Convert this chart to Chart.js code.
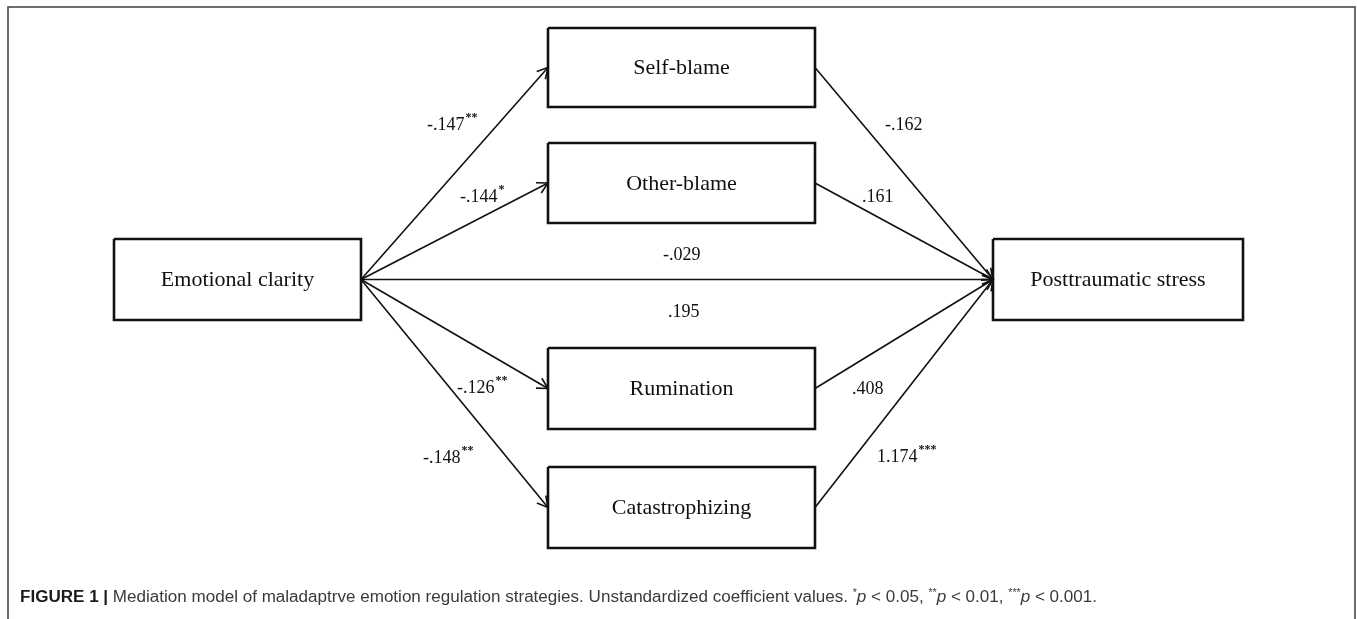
<!DOCTYPE html>
<html>
<head>
<meta charset="utf-8">
<script src="https://cdn.jsdelivr.net/npm/chart.js@4.4.1/dist/chart.umd.min.js"></script>
<style>
  html, body { margin: 0; padding: 0; background: #fff; }
  #wrap { width: 1357px; height: 619px; }
</style>
</head>
<body>
<div id="wrap"><canvas id="myChart" width="1357" height="619"></canvas></div>
<script>
// model content
const nodeNames = ['Emotional clarity', 'Self-blame', 'Other-blame', 'Rumination', 'Catastrophizing', 'Posttraumatic stress'];
const pathFrom = [0, 0, 0, 0, 0, 1, 2, 3, 4];
const pathTo   = [1, 2, 5, 3, 4, 5, 5, 5, 5];
const coefLabels = ['-.147', '-.144', '-.029', '.195', '-.126', '-.148', '-.162', '.161', '.408', '1.174'];
const coefStars  = ['**', '*', '', '', '**', '**', '', '', '', '***'];
const captionParts = [
    { t: 'FIGURE 1 | ', b: true },
    { t: 'Mediation model of maladaptrve emotion regulation strategies. Unstandardized coefficient values. ' },
    { t: '*', sup: true }, { t: 'p', i: true }, { t: ' < 0.05, ' },
    { t: '**', sup: true }, { t: 'p', i: true }, { t: ' < 0.01, ' },
    { t: '***', sup: true }, { t: 'p', i: true }, { t: ' < 0.001.' }
];

// layout (page units, mapped through the hidden linear scales)
const nodeBox = [
    [114, 239, 361, 320],
    [548, 28, 815, 107],
    [548, 143, 815, 223],
    [548, 348, 815, 429],
    [548, 467, 815, 548],
    [993, 239, 1243, 320]
];
const labelAt = [
    [427, 125], [460, 197], [663, 255], [668, 312], [457, 388],
    [423, 458], [885, 125], [862, 197], [852, 389], [877, 457]
];

const serif = '"Liberation Serif", "Times New Roman", serif';

function boxData(b) {
    return [
        { x: b[0], y: b[1] }, { x: b[2], y: b[1] }, { x: b[2], y: b[3] },
        { x: b[0], y: b[3] }, { x: b[0], y: b[1] }
    ];
}

const datasets = [];
pathFrom.forEach((f, i) => {
    const a = nodeBox[f], b = nodeBox[pathTo[i]];
    datasets.push({
        id: 'path',
        data: [
            { x: a[2], y: (a[1] + a[3]) / 2 },
            { x: b[0], y: (b[1] + b[3]) / 2 }
        ],
        showLine: true,
        borderColor: '#111',
        borderWidth: 1.6,
        pointRadius: 0
    });
});
nodeBox.forEach(b => {
    datasets.push({
        id: 'box',
        data: boxData(b),
        showLine: true,
        borderColor: '#111',
        borderWidth: 2.6,
        pointRadius: 0,
        borderJoinStyle: 'miter'
    });
});

const diagramPlugin = {
    id: 'diagram',
    beforeDraw(chart) {
        const c = chart.ctx;
        c.save();
        c.fillStyle = '#fff';
        c.fillRect(0, 0, chart.width, chart.height);
        c.strokeStyle = '#4a4a4a';
        c.lineWidth = 1.6;
        c.strokeRect(8, 7, 1347, 640);
        c.restore();
    },
    afterDatasetsDraw(chart) {
        const c = chart.ctx;
        const xs = chart.scales.x, ys = chart.scales.y;
        c.save();

        // arrow heads
        chart.data.datasets.forEach((ds, i) => {
            if (ds.id !== 'path') return;
            const pts = chart.getDatasetMeta(i).data;
            const p0 = pts[0], p1 = pts[1];
            const ang = Math.atan2(p1.y - p0.y, p1.x - p0.x);
            const len = 12, spread = 0.5;
            c.strokeStyle = '#111';
            c.lineWidth = 1.6;
            c.beginPath();
            c.moveTo(p1.x - len * Math.cos(ang - spread), p1.y - len * Math.sin(ang - spread));
            c.lineTo(p1.x, p1.y);
            c.lineTo(p1.x - len * Math.cos(ang + spread), p1.y - len * Math.sin(ang + spread));
            c.stroke();
        });

        // node names
        c.fillStyle = '#111';
        c.font = '22px ' + serif;
        c.textAlign = 'center';
        c.textBaseline = 'middle';
        nodeNames.forEach((n, i) => {
            const b = nodeBox[i];
            c.fillText(n, xs.getPixelForValue((b[0] + b[2]) / 2), ys.getPixelForValue((b[1] + b[3]) / 2) + 1);
        });

        // coefficients
        c.textAlign = 'left';
        coefLabels.forEach((t, i) => {
            const x = xs.getPixelForValue(labelAt[i][0]);
            const y = ys.getPixelForValue(labelAt[i][1]);
            c.font = '18px ' + serif;
            c.fillText(t, x, y);
            if (coefStars[i]) {
                const w = c.measureText(t).width;
                c.font = 'bold 12px ' + serif;
                c.fillText(coefStars[i], x + w + 1, y - 7);
            }
        });

        // caption
        const sans = '"Liberation Sans", Arial, sans-serif';
        const fontFor = p => (p.i ? 'italic ' : '') + (p.b ? 'bold ' : '') + (p.sup ? '10px ' : '16px ') + sans;
        let total = 0;
        captionParts.forEach(p => { c.font = fontFor(p); total += c.measureText(p.t).width; });
        const x0 = 20, x1 = 1097, yc = 596;
        const sx = (x1 - x0) / total;
        c.translate(x0, yc);
        c.scale(sx, 1);
        let cx = 0;
        c.textBaseline = 'alphabetic';
        captionParts.forEach(p => {
            c.font = fontFor(p);
            c.fillStyle = p.b ? '#1a1a1a' : '#3a3a3a';
            c.fillText(p.t, cx, p.sup ? 0 : 6);
            cx += c.measureText(p.t).width;
        });
        c.restore();
    }
};

const ctx = document.getElementById('myChart').getContext('2d');
new Chart(ctx, {
    type: 'scatter',
    data: { datasets: datasets },
    options: {
        responsive: false,
        animation: false,
        devicePixelRatio: 1,
        layout: { padding: 0 },
        plugins: { legend: { display: false }, tooltip: { enabled: false } },
        scales: {
            x: { type: 'linear', min: 0, max: 1357, display: false },
            y: { type: 'linear', min: 0, max: 619, reverse: true, display: false }
        }
    },
    plugins: [diagramPlugin]
});
</script>
</body>
</html>
